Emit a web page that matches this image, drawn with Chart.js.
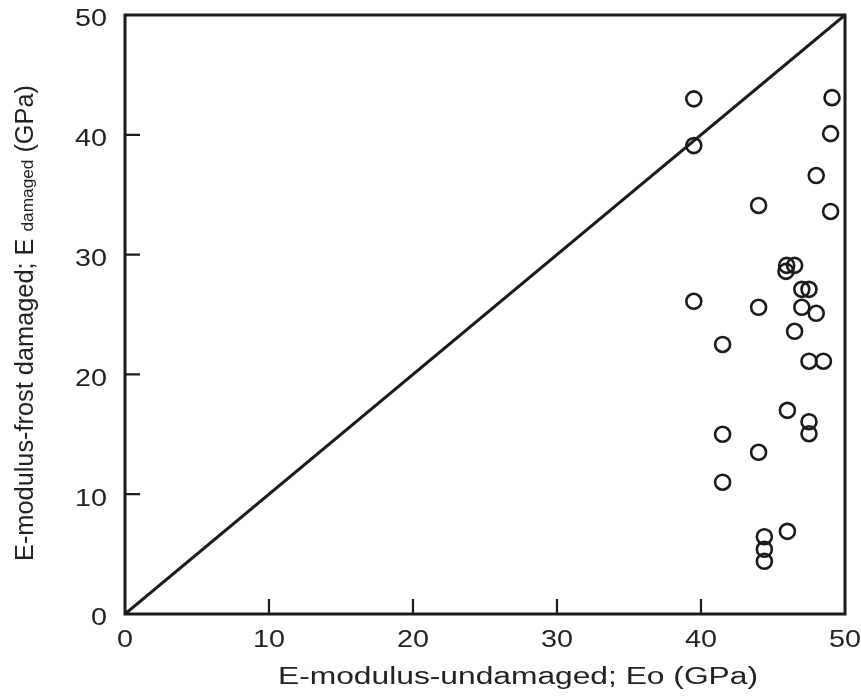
<!DOCTYPE html>
<html><head><meta charset="utf-8">
<script src="https://cdn.jsdelivr.net/npm/chart.js@4/dist/chart.umd.min.js"></script>
<style>html,body{margin:0;padding:0;background:#fff;} canvas{display:block;}</style>
</head><body>
<canvas id="c" width="861" height="696"></canvas>
<script>
// E-modulus undamaged (x) and frost damaged (y), GPa
const eUndamaged = [39.5, 39.5, 49.1, 49.0, 48.0, 49.0, 44.0, 39.5, 44.0, 45.95,
                    46.5, 45.9, 47.0, 47.5, 47.0, 48.0, 46.5, 41.5, 47.5, 48.5,
                    46.0, 47.5, 47.5, 41.5, 44.0, 41.5, 46.0, 44.4, 44.4, 44.4];
const eDamaged   = [43.0, 39.1, 43.1, 40.1, 36.6, 33.6, 34.1, 26.1, 25.6, 29.1,
                    29.1, 28.6, 27.1, 27.1, 25.6, 25.1, 23.6, 22.5, 21.1, 21.1,
                    17.0, 16.05, 15.05, 15.0, 13.5, 11.0, 6.9, 6.45, 5.4, 4.4];
const refLineX = [0, 50];
const refLineY = [0, 50];
const axisMin = 0, axisMax = 50, axisStep = 10;
const xTitle = 'E-modulus-undamaged; Eo (GPa)';
const yTitleParts = ['E-modulus-frost damaged; E ', 'damaged', ' (GPa)'];

const INK = '#1b1b1b';
const FONT = '"Liberation Sans", Arial, Helvetica, sans-serif';

function stretchedText(ctx, text, x, y, align, sx) {
  ctx.save();
  ctx.translate(x, y);
  ctx.scale(sx, 1);
  ctx.textAlign = align;
  ctx.fillText(text, 0, 0);
  ctx.restore();
}

const framePlugin = {
  id: 'frame',
  afterDraw(chart) {
    const {ctx, chartArea: a, scales: {x, y}} = chart;
    ctx.save();
    ctx.strokeStyle = INK;
    ctx.lineWidth = 3;
    ctx.strokeRect(a.left, a.top, a.right - a.left, a.bottom - a.top);
    // inward tick marks
    ctx.lineWidth = 2.2;
    ctx.beginPath();
    x.ticks.forEach(t => {
      if (t.value > axisMin && t.value < axisMax) {
        const px = x.getPixelForValue(t.value);
        ctx.moveTo(px, a.bottom); ctx.lineTo(px, a.bottom - 15);
      }
    });
    y.ticks.forEach(t => {
      if (t.value > axisMin && t.value < axisMax) {
        const py = y.getPixelForValue(t.value);
        ctx.moveTo(a.left, py); ctx.lineTo(a.left + 15, py);
      }
    });
    ctx.stroke();
    // tick labels
    ctx.fillStyle = '#222';
    ctx.font = '23px ' + FONT;
    ctx.textBaseline = 'middle';
    x.ticks.forEach(t => {
      stretchedText(ctx, String(t.value), x.getPixelForValue(t.value), 641, 'center', 1.25);
    });
    y.ticks.forEach(t => {
      stretchedText(ctx, String(t.value), 107, y.getPixelForValue(t.value) + 5, 'right', 1.25);
    });
    // x title
    ctx.textBaseline = 'alphabetic';
    ctx.font = '23px ' + FONT;
    const xw = ctx.measureText(xTitle).width;
    stretchedText(ctx, xTitle, 518, 684, 'center', 480 / xw);
    // y title (rotated, with smaller "damaged")
    ctx.save();
    ctx.translate(33, 323);
    ctx.rotate(-Math.PI / 2);
    const sizes = [25, 17, 25];
    let total = 0;
    const widths = yTitleParts.map((s, i) => {
      ctx.font = sizes[i] + 'px ' + FONT;
      const w = ctx.measureText(s).width; total += w; return w;
    });
    ctx.scale(476 / total, 1);
    let cx = -total / 2;
    ctx.textAlign = 'left';
    yTitleParts.forEach((s, i) => {
      ctx.font = sizes[i] + 'px ' + FONT;
      ctx.fillText(s, cx, 0);
      cx += widths[i];
    });
    ctx.restore();
    ctx.restore();
  }
};

const points = eUndamaged.map((v, i) => ({x: v, y: eDamaged[i]}));
const refLine = refLineX.map((v, i) => ({x: v, y: refLineY[i]}));

new Chart(document.getElementById('c'), {
  type: 'scatter',
  data: {
    datasets: [
      {
        type: 'line',
        data: refLine,
        borderColor: INK,
        borderWidth: 3,
        pointRadius: 0,
        fill: false,
        tension: 0
      },
      {
        data: points,
        pointStyle: 'circle',
        pointRadius: 7.5,
        pointBorderWidth: 2.6,
        pointBorderColor: INK,
        pointBackgroundColor: 'rgba(255,255,255,0)',
        pointHoverRadius: 7.5
      }
    ]
  },
  options: {
    responsive: false,
    devicePixelRatio: 1,
    animation: false,
    layout: {padding: {left: 125, right: 16, top: 15, bottom: 82}},
    plugins: {legend: {display: false}, tooltip: {enabled: false}},
    scales: {
      x: {
        type: 'linear', min: axisMin, max: axisMax,
        ticks: {stepSize: axisStep, display: false},
        grid: {display: false, drawTicks: false},
        border: {display: false}
      },
      y: {
        type: 'linear', min: axisMin, max: axisMax,
        ticks: {stepSize: axisStep, display: false},
        grid: {display: false, drawTicks: false},
        border: {display: false}
      }
    }
  },
  plugins: [framePlugin]
});
</script>
</body></html>
